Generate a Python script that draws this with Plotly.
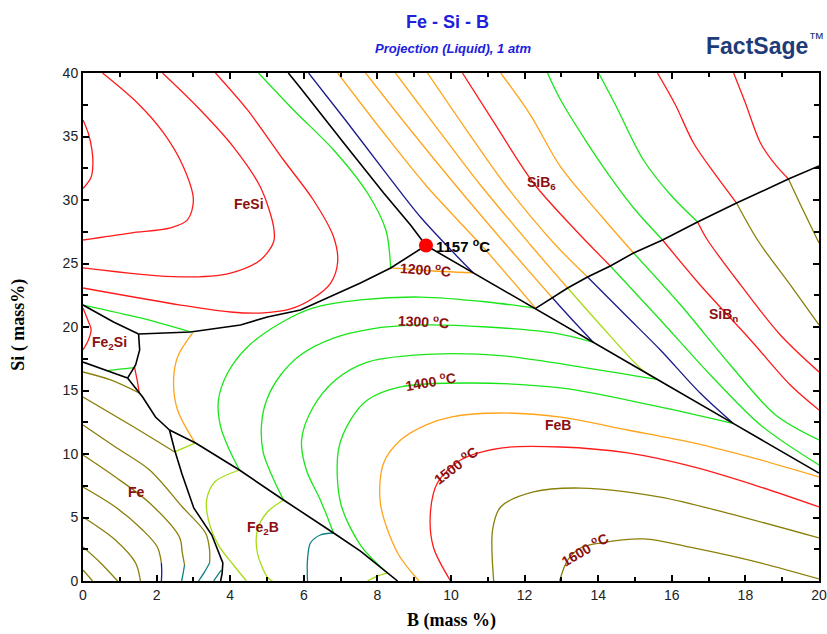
import plotly.graph_objects as go

# ---------------------------------------------------------------------------
# Fe - Si - B liquidus projection.  All coordinates are (B mass %, Si mass %).
# ---------------------------------------------------------------------------

PALETTE = {
    "black": "#000000",
    "red": "#ff1a1a",
    "green": "#19e619",
    "orange": "#ffa319",
    "olive": "#8a7f0a",
    "navy": "#1a1a8c",
    "yellowgreen": "#a6dc14",
    "teal": "#0f7f86",
}

# Univariant valleys (black)
valley_fesi_sib6_B = [5.58, 5.91, 7.13, 8.17, 8.90, 9.32]
valley_fesi_sib6_Si = [40.0, 38.82, 34.33, 30.55, 28.03, 26.42]

valley_sib6_feb_B = [9.32, 10.61, 12.30, 13.87, 15.61, 17.68, 20.0]
valley_sib6_feb_Si = [26.42, 24.26, 21.47, 18.79, 15.87, 12.39, 8.5]

valley_sib6_sibn_B = [12.30, 12.76, 13.17, 13.71, 14.33, 14.96, 15.75, 16.70, 17.76, 19.17, 20.0]
valley_sib6_sibn_Si = [21.47, 22.28, 23.07, 23.94, 24.80, 25.83, 26.85, 28.27, 29.76, 31.65, 32.68]

valley_fesi_feb_B = [9.32, 8.36, 7.54, 5.91, 5.01, 4.28, 2.92, 1.51]
valley_fesi_feb_Si = [26.42, 24.65, 23.46, 21.34, 20.79, 20.16, 19.61, 19.45]

valley_fesi_fe2si_B = [0.0, 0.83, 1.51]
valley_fesi_fe2si_Si = [21.73, 20.39, 19.45]

valley_fe2si_feb_B = [1.51, 1.54, 1.43, 1.35, 1.21]
valley_fe2si_feb_Si = [19.45, 18.19, 17.01, 16.61, 15.98]

valley_fe2si_fe_B = [0.0, 0.58, 1.21]
valley_fe2si_fe_Si = [17.24, 16.61, 15.98]

valley_fe_feb_B = [1.21, 1.62, 1.97, 2.35]
valley_fe_feb_Si = [15.98, 14.49, 12.91, 11.89]

valley_fe2b_feb_B = [2.35, 3.06, 4.25, 5.45, 6.81, 7.54, 8.55]
valley_fe2b_feb_Si = [11.89, 10.87, 8.74, 6.38, 3.78, 2.36, 0.0]

valley_fe_fe2b_B = [2.35, 2.49, 2.69, 3.01, 3.50, 3.80, 3.78, 3.74]
valley_fe_fe2b_Si = [11.89, 10.31, 8.43, 5.75, 3.62, 1.42, 0.6, 0.0]

VALLEYS = [
    (valley_fesi_sib6_B, valley_fesi_sib6_Si),
    (valley_sib6_feb_B, valley_sib6_feb_Si),
    (valley_sib6_sibn_B, valley_sib6_sibn_Si),
    (valley_fesi_feb_B, valley_fesi_feb_Si),
    (valley_fesi_fe2si_B, valley_fesi_fe2si_Si),
    (valley_fe2si_feb_B, valley_fe2si_feb_Si),
    (valley_fe2si_fe_B, valley_fe2si_fe_Si),
    (valley_fe_feb_B, valley_fe_feb_Si),
    (valley_fe2b_feb_B, valley_fe2b_feb_Si),
    (valley_fe_fe2b_B, valley_fe_fe2b_Si),
]

# Isotherms, grouped by primary phase field: (colour, B values, Si values)
FESI_ISOTHERMS = [
    ("red", [0.0, 0.15, 0.24, 0.27, 0.22, 0.0], [36.3, 35.2, 34.0, 32.9, 31.8, 30.9]),
    ("red", [0.53, 1.48, 2.19, 2.73, 3.00, 2.84, 2.38, 1.29, 0.0],
            [40.0, 37.64, 35.28, 32.60, 30.0, 28.43, 27.80, 27.40, 26.85]),
    ("red", [2.16, 3.11, 4.09, 4.82, 5.18, 5.18, 4.82, 4.01, 2.65, 0.0],
            [40.0, 37.32, 34.17, 31.02, 27.87, 26.69, 25.28, 24.25, 23.94, 24.65]),
    ("red", [3.60, 4.47, 5.45, 6.26, 6.81, 6.92, 6.73, 6.26, 5.64, 4.82, 4.01, 2.65, 0.0],
            [40.0, 37.09, 33.15, 30.0, 27.09, 25.12, 23.46, 22.28, 21.42, 21.10, 21.18, 21.73, 23.07]),
    ("green", [4.77, 5.72, 6.81, 7.73, 8.23, 8.36], [40.0, 37.09, 33.94, 30.55, 27.64, 24.65]),
    ("green", [0.0, 1.56, 2.92], [21.73, 20.71, 19.61]),
]

FE2SI_ISOTHERMS = [
    ("red", [0.0, 0.15, 0.22, 0.15, 0.0], [21.5, 20.4, 19.8, 19.0, 18.2]),
    ("green", [0.65, 1.0, 1.40], [16.55, 16.68, 16.80]),
]

FEB_ISOTHERMS = [
    ("red", [1.40, 1.47, 1.53], [16.85, 15.83, 14.80]),
    ("orange", [2.98, 2.57, 2.46, 2.57, 3.00, 3.06], [19.53, 17.64, 15.59, 13.46, 11.10, 10.87]),
    ("orange", [8.36, 9.3, 10.61], [24.65, 24.45, 24.26]),
    ("green", [12.30, 10.99, 9.17, 7.54, 6.26, 5.37, 4.47, 3.93, 3.68, 3.74, 3.98, 4.25],
              [21.47, 21.97, 22.36, 22.13, 21.50, 20.31, 18.43, 16.38, 14.25, 12.13, 10.31, 8.74]),
    ("green", [13.87, 12.79, 10.99, 9.17, 7.81, 6.81, 5.91, 5.37, 4.99, 4.85, 4.90, 5.15, 5.45],
              [18.79, 19.53, 20.0, 20.16, 19.84, 19.13, 17.80, 16.22, 14.25, 12.28, 10.08, 8.19, 6.38]),
    ("green", [15.61, 13.71, 11.43, 9.52, 7.73, 6.86, 6.24, 5.94, 6.07, 6.45, 6.81],
              [15.87, 16.77, 17.72, 17.87, 17.24, 15.83, 13.62, 11.10, 8.74, 6.38, 3.78]),
    ("green", [17.68, 15.42, 12.98, 10.45, 8.63, 7.73, 7.27, 6.94, 7.00, 7.54, 8.27],
              [12.39, 13.86, 15.20, 15.59, 15.28, 14.25, 12.68, 10.31, 6.14, 2.83, 0.62]),
    ("orange", [9.13, 8.55, 8.08, 8.17, 8.63, 9.31, 9.99, 11.35, 12.98, 14.80, 16.59, 18.41, 20.0],
               [0.0, 2.20, 6.14, 9.29, 11.10, 12.28, 12.91, 13.23, 12.91, 11.89, 10.87, 9.53, 8.19]),
    ("red", [9.99, 9.52, 9.44, 9.63, 10.26, 11.35, 12.98, 14.80, 16.59, 18.41, 20.0],
            [0.0, 2.68, 5.35, 7.72, 9.53, 10.47, 10.55, 10.08, 8.98, 7.40, 5.83]),
    ("olive", [11.16, 11.13, 11.35, 12.24, 13.52, 15.69, 17.51, 20.0],
              [0.0, 4.02, 5.83, 7.01, 7.32, 6.61, 5.35, 3.39]),
    ("olive", [12.95, 13.17, 13.52, 14.06, 15.24, 16.59, 18.41, 20.0],
              [0.0, 1.65, 2.60, 2.99, 3.31, 2.60, 1.42, 0.16]),
]

FE2B_ISOTHERMS = [
    ("yellowgreen", [2.49, 3.06], [10.16, 10.87]),
    ("yellowgreen", [4.25, 3.58, 3.36, 3.41, 3.68, 4.09, 4.44], [8.74, 7.80, 6.38, 4.80, 2.83, 1.26, 0.0]),
    ("yellowgreen", [5.45, 5.01, 4.74, 4.74, 5.01, 5.15], [6.38, 5.43, 4.02, 2.20, 0.31, 0.0]),
    ("teal", [6.81, 6.45, 6.18, 6.10, 6.10], [3.78, 3.62, 2.99, 1.65, 0.0]),
    ("yellowgreen", [7.73, 8.0, 8.27], [0.0, 0.39, 0.62]),
]

FE_ISOTHERMS = [
    ("olive", [0.0, 0.75, 1.53], [16.46, 15.83, 14.80]),
    ("olive", [0.0, 1.29, 2.49], [14.49, 12.28, 10.16]),
    ("olive", [0.0, 0.88, 1.81, 2.70, 3.33, 3.44, 3.44], [12.28, 10.55, 8.74, 5.83, 3.78, 2.44, 1.42]),
    ("teal", [3.44, 3.30, 3.14], [1.42, 0.70, 0.0]),
    ("olive", [0.0, 0.88, 1.81, 2.62, 2.70, 2.76], [9.92, 8.19, 6.14, 3.46, 2.20, 1.26]),
    ("teal", [2.76, 2.72, 2.68], [1.26, 0.60, 0.0]),
    ("olive", [0.0, 0.88, 1.62, 2.02, 2.13], [7.40, 5.83, 4.02, 2.68, 1.42]),
    ("navy", [2.13, 2.14, 2.13], [1.42, 0.70, 0.0]),
    ("olive", [0.0, 0.88, 1.43, 1.56], [5.04, 3.23, 1.42, 0.0]),
    ("olive", [0.0, 0.48, 0.94], [2.68, 1.42, 0.0]),
    ("olive", [0.0, 0.26], [0.87, 0.0]),
    ("teal", [3.55, 3.68, 3.76], [0.0, 0.55, 0.85]),
]

SIB6_ISOTHERMS = [
    ("navy", [6.13, 7.13, 8.17, 9.17, 10.26, 10.61], [40.0, 36.30, 32.36, 28.66, 25.28, 24.26]),
    ("orange", [6.92, 8.11, 9.31, 10.94, 12.30], [40.0, 35.51, 31.18, 26.06, 21.47]),
    ("orange", [7.68, 8.90, 10.12, 11.62, 12.76], [40.0, 35.51, 31.18, 26.06, 22.28]),
    ("orange", [8.49, 9.66, 10.80, 12.16, 13.17], [40.0, 35.51, 31.18, 26.46, 23.07]),
    ("orange", [9.36, 10.42, 11.48, 12.84, 13.71], [40.0, 35.51, 31.18, 26.46, 23.94]),
    ("red", [10.31, 11.21, 12.24, 13.38, 14.33], [40.0, 35.91, 31.34, 27.64, 24.80]),
    ("orange", [11.35, 12.16, 12.98, 14.06, 14.96], [40.0, 36.69, 32.60, 28.82, 25.83]),
    ("green", [12.62, 12.98, 13.65, 14.33, 15.01, 15.75], [40.0, 37.87, 34.72, 31.81, 29.21, 26.85]),
    ("green", [14.01, 14.47, 15.23, 15.97, 16.70], [40.0, 37.48, 33.15, 30.39, 28.27]),
    ("red", [15.61, 16.10, 16.59, 17.19, 17.76], [40.0, 37.48, 34.49, 31.97, 29.76]),
    ("red", [17.68, 18.0, 18.41, 18.82, 19.17], [40.0, 37.64, 34.49, 32.76, 31.65]),
]

SIBN_ISOTHERMS = [
    ("navy", [12.76, 13.30, 13.87], [22.28, 20.55, 18.79]),
    ("yellowgreen", [13.17, 14.06, 15.20, 15.61], [23.07, 20.16, 16.61, 15.87]),
    ("navy", [13.71, 14.74, 15.69, 16.77, 17.68], [23.94, 20.94, 18.19, 14.80, 12.39]),
    ("green", [14.33, 15.69, 17.05, 18.41, 20.0], [24.80, 20.55, 16.22, 12.28, 9.13]),
    ("green", [14.96, 16.24, 17.59, 18.82, 20.0], [25.83, 21.73, 17.01, 13.07, 11.10]),
    ("red", [15.75, 16.77, 18.14, 19.22, 20.0], [26.85, 23.31, 18.98, 15.43, 13.46]),
    ("red", [16.70, 16.97, 17.87, 18.95, 20.0], [28.27, 26.85, 23.31, 19.37, 16.46]),
    ("olive", [17.76, 18.33, 19.22, 20.0], [29.76, 26.85, 23.31, 20.16]),
    ("olive", [19.17, 19.50, 20.0], [31.65, 29.61, 26.61]),
]

# Ternary eutectic
eutectic_B = [9.32]
eutectic_Si = [26.42]
eutectic_text = "1157 <sup>o</sup>C"

# Primary phase field names: (text, B, Si)
field_names = ["FeSi", "Fe<sub>2</sub>Si", "Fe", "Fe<sub>2</sub>B", "FeB", "SiB<sub>6</sub>", "SiB<sub>n</sub>"]
field_B = [4.50, 0.72, 1.45, 4.90, 12.92, 12.45, 17.40]
field_Si = [29.69, 18.74, 7.0, 4.17, 12.28, 31.34, 20.94]

# Isotherm temperature labels
iso_text = ["1200 <sup>o</sup>C", "1300 <sup>o</sup>C", "1400 <sup>o</sup>C", "1500 <sup>o</sup>C", "1600 <sup>o</sup>C"]
iso_B = [9.31, 9.25, 9.44, 10.12, 13.63]
iso_Si = [24.55, 20.45, 15.75, 9.13, 2.52]
iso_angle = [4, 3, -10, -38, -30]

fig = go.Figure()


def add_line(colour, bs, sis, width=1.3, smooth=True):
    fig.add_trace(go.Scatter(
        x=bs, y=sis, mode="lines",
        line=dict(color=PALETTE[colour], width=width,
                  shape="spline" if smooth else "linear", smoothing=0.9),
        hoverinfo="skip", showlegend=False,
    ))


for group in (FESI_ISOTHERMS, FE2SI_ISOTHERMS, FEB_ISOTHERMS, FE2B_ISOTHERMS,
              FE_ISOTHERMS, SIB6_ISOTHERMS, SIBN_ISOTHERMS):
    for colour, bs, sis in group:
        add_line(colour, bs, sis)

for bs, sis in VALLEYS:
    add_line("black", bs, sis, width=1.6, smooth=False)

fig.add_trace(go.Scatter(
    x=eutectic_B, y=eutectic_Si, mode="markers",
    marker=dict(color="#ff0000", size=14, line=dict(width=0)),
    hoverinfo="skip", showlegend=False,
))

SANS = "Liberation Sans, Arial, sans-serif"
SERIF = "Liberation Serif, Times New Roman, serif"
label_font = dict(family=SANS, size=14, color="#8b1010")

for text, b, si in zip(field_names, field_B, field_Si):
    fig.add_annotation(x=b, y=si, text=f"<b>{text}</b>", showarrow=False, font=label_font,
                       xanchor="center", yanchor="middle")

for text, b, si, ang in zip(iso_text, iso_B, iso_Si, iso_angle):
    fig.add_annotation(x=b, y=si, text=f"<b>{text}</b>", showarrow=False,
                       textangle=ang, font=label_font, xanchor="center", yanchor="middle")

fig.add_annotation(x=eutectic_B[0] + 0.22, y=eutectic_Si[0], text=f"<b>{eutectic_text}</b>",
                   showarrow=False, xanchor="left", yanchor="middle",
                   font=dict(family=SANS, size=15, color="#000000"))

# Titles and logo
fig.add_annotation(xref="paper", yref="paper", x=0.495, y=1.100, text="<b>Fe - Si - B</b>",
                   showarrow=False, xanchor="center", yanchor="middle",
                   font=dict(family=SANS, size=18, color="#2020dd"))
fig.add_annotation(xref="paper", yref="paper", x=0.503, y=1.049,
                   text="<b><i>Projection (Liquid), 1 atm</i></b>", showarrow=False,
                   xanchor="center", yanchor="middle",
                   font=dict(family=SANS, size=13, color="#2020dd"))
fig.add_annotation(xref="paper", yref="paper", x=0.927, y=1.058,
                   text="<b>FactSage</b><sup>™</sup>", showarrow=False,
                   xanchor="center", yanchor="middle",
                   font=dict(family=SANS, size=23, color="#1f3c78"))

# Axis titles
fig.add_annotation(xref="paper", yref="paper", x=0.5, y=-0.077, text="<b>B (mass %)</b>",
                   showarrow=False, xanchor="center", yanchor="middle",
                   font=dict(family=SERIF, size=18, color="#000000"))
fig.add_annotation(xref="paper", yref="paper", x=-0.088, y=0.505, text="<b>Si ( mass%)</b>",
                   showarrow=False, textangle=-90, xanchor="center", yanchor="middle",
                   font=dict(family=SERIF, size=18, color="#000000"))

axis_common = dict(
    showline=True, linecolor="black", linewidth=2, mirror="ticks",
    ticks="inside", ticklen=6, tickwidth=1.5, tickcolor="black",
    showgrid=False, zeroline=False, automargin=False,
    tickfont=dict(family=SANS, size=14, color="#222222"),
)

fig.update_xaxes(range=[0, 20], dtick=2, tick0=0,
                 minor=dict(dtick=1, ticks="inside", ticklen=4, tickcolor="black", showgrid=False),
                 **axis_common)
fig.update_yaxes(range=[0, 40], dtick=5, tick0=0,
                 minor=dict(dtick=2.5, ticks="inside", ticklen=5, tickcolor="black", showgrid=False),
                 **axis_common)

fig.update_layout(
    width=827, height=634,
    margin=dict(l=83, r=8, t=73, b=53, autoexpand=False),
    plot_bgcolor="white", paper_bgcolor="white",
    showlegend=False,
)

fig.write_html("out.html")
